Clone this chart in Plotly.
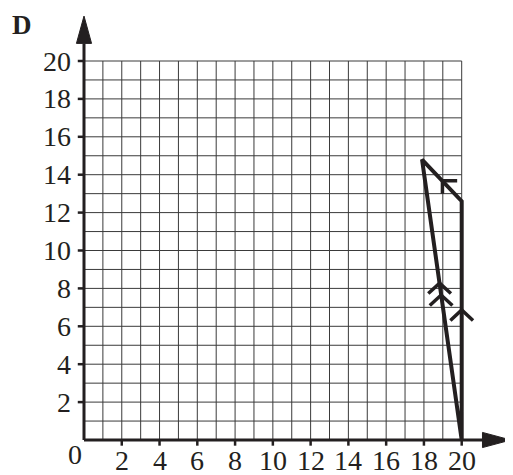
import plotly.graph_objects as go

# ---- data ----
grid_min, grid_max = 0, 20
x_ticks = [2, 4, 6, 8, 10, 12, 14, 16, 18, 20]
y_ticks = [2, 4, 6, 8, 10, 12, 14, 16, 18, 20]
x_tick_labels = [str(v) for v in x_ticks]
y_tick_labels = [str(v) for v in y_ticks]
shape_x = [20, 17.9, 20, 20]
shape_y = [0, 14.8, 12.6, 0]
# parallel-edge markers: (tip x, tip y)
double_chev_tips = [(18.83, 8.28), (18.91, 7.65)]
single_chev_tip = (20, 6.86)
top_arrow_tip = (18.98, 13.68)

INK = "#231f20"
GRID = "#3a3a3a"

# the page body adds an 8px offset, so the figure is drawn 8px smaller
OFF = 8
W, H = 513 - OFF, 475 - OFF
x0_px, x20_px = 84 - OFF, 461.7 - OFF
y0_px, y20_px = 440 - OFF, 61 - OFF
sx = (x20_px - x0_px) / 20
sy = (y0_px - y20_px) / 20
x_range = [-x0_px / sx, (W - x0_px) / sx]
y_range = [(y0_px - H) / sy, y0_px / sy]

fig = go.Figure()

def add_line(xs, ys, width, color, fill=None):
    fig.add_trace(go.Scatter(x=xs, y=ys, mode="lines",
                             line=dict(color=color, width=width),
                             fill=fill, fillcolor=color if fill else None,
                             hoverinfo="skip", showlegend=False))

# grid
gx, gy = [], []
for v in range(grid_min + 1, grid_max + 1):
    gx += [v, v, None]; gy += [grid_min, grid_max, None]
    gx += [grid_min, grid_max, None]; gy += [v, v, None]
add_line(gx, gy, 1, GRID)

# axes
x_arrow_base, x_arrow_tip, x_arrow_half = 21.1, 22.6, 0.40
y_arrow_base, y_arrow_tip, y_arrow_half = 20.93, 22.37, 0.40
add_line([0, x_arrow_base], [0, 0], 3, INK)
add_line([0, 0], [0, y_arrow_base], 3, INK)
add_line([x_arrow_base, x_arrow_tip, x_arrow_base, x_arrow_base],
         [x_arrow_half, 0, -x_arrow_half, x_arrow_half], 1, INK, fill="toself")
add_line([y_arrow_half, 0, -y_arrow_half, y_arrow_half],
         [y_arrow_base, y_arrow_tip, y_arrow_base, y_arrow_base], 1, INK, fill="toself")

# ticks
tx, ty = [], []
for v in x_ticks:
    tx += [v, v, None]; ty += [0, -0.3, None]
add_line(tx, ty, 2.5, INK)
tx, ty = [], []
for v in y_ticks:
    tx += [0, -0.33, None]; ty += [v, v, None]
add_line(tx, ty, 2.5, INK)

# shape
add_line(shape_x, shape_y, 4, INK)

# chevrons
cx, cy = [], []
for (px, py) in double_chev_tips:
    cx += [px - 0.6, px, px + 0.6, None]; cy += [py - 0.55, py, py - 0.55, None]
px, py = single_chev_tip
cx += [px - 0.6, px, px + 0.6, None]; cy += [py - 0.55, py, py - 0.55, None]
px, py = top_arrow_tip
cx += [px + 0.78, px, px, None]; cy += [py, py, py - 0.68, None]
add_line(cx, cy, 3.5, INK)

font = dict(family="Liberation Serif", size=28, color=INK)
annotations = []
for v, t in zip(x_ticks, x_tick_labels):
    annotations.append(dict(x=v, y=-1.1, text=t, showarrow=False, font=font,
                            xanchor="center", yanchor="middle"))
for v, t in zip(y_ticks, y_tick_labels):
    annotations.append(dict(x=-0.6, y=v, text=t, showarrow=False, font=font,
                            xanchor="right", yanchor="middle"))
annotations.append(dict(x=-0.48, y=-0.78, text="0", showarrow=False, font=font,
                        xanchor="center", yanchor="middle"))
annotations.append(dict(x=-3.3, y=21.9, text="<b>D</b>", showarrow=False,
                        font=dict(family="Liberation Serif", size=27, color=INK),
                        xanchor="center", yanchor="middle"))

fig.update_layout(
    width=W, height=H,
    margin=dict(l=0, r=0, t=0, b=0),
    paper_bgcolor="white", plot_bgcolor="white",
    xaxis=dict(range=x_range, visible=False, fixedrange=True),
    yaxis=dict(range=y_range, visible=False, fixedrange=True),
    annotations=annotations,
    showlegend=False,
)
fig.write_html("out.html")
